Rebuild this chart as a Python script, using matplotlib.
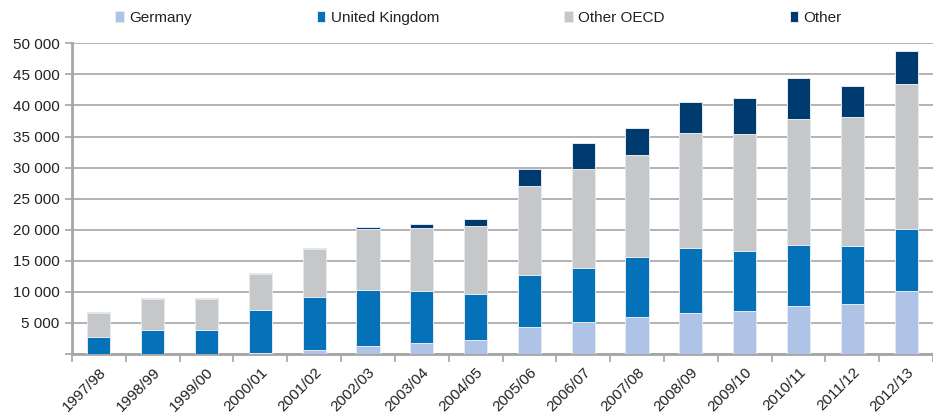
import numpy as np
import matplotlib
matplotlib.use("Agg")
import matplotlib.pyplot as plt
from matplotlib.ticker import FuncFormatter, FixedLocator

plt.rcParams['font.family'] = ['Liberation Sans', 'DejaVu Sans']

years = ["1997/98", "1998/99", "1999/00", "2000/01", "2001/02", "2002/03",
         "2003/04", "2004/05", "2005/06", "2006/07", "2007/08", "2008/09",
         "2009/10", "2010/11", "2011/12", "2012/13"]

germany = [50, 50, 50, 200, 650, 1300, 1800, 2200, 4350, 5200, 5900, 6600,
           6950, 7700, 8000, 10100]
uk = [2650, 3800, 3850, 6900, 8450, 9050, 8400, 7500, 8400, 8700, 9650,
      10400, 9650, 9850, 9400, 9950]
other_oecd = [3850, 5000, 4900, 5700, 7850, 9750, 10100, 10850, 14300,
              15900, 16500, 18500, 18750, 20300, 20700, 23350]
other = [200, 200, 200, 250, 100, 400, 650, 1200, 2650, 4100, 4350, 5000,
         5850, 6600, 5100, 5400]

series = [("Germany", germany, "#aec3e5"),
          ("United Kingdom", uk, "#0571b9"),
          ("Other OECD", other_oecd, "#c6c7c9"),
          ("Other", other, "#003b70")]

fig = plt.figure(figsize=(9.33, 4.18), dpi=100)
ax = fig.add_axes([72 / 933, 64 / 418, 861 / 933, (354 - 43.3) / 418])

x = np.arange(len(years))
bottom = np.zeros(len(years))
for name, vals, col in series:
    ax.bar(x, vals, 0.43, bottom=bottom, color=col, label=name,
           edgecolor="#e4eaf2", linewidth=0.7, zorder=3)
    bottom += np.array(vals)

grid_col = "#a6a6a6"
ax.set_ylim(0, 50000)
ax.set_xlim(-0.5, len(years) - 0.5)
ax.set_yticks(np.arange(0, 50001, 5000))
ax.yaxis.set_major_formatter(FuncFormatter(
    lambda v, p: "" if v == 0 else f"{int(v):,}".replace(",", " ")))
ax.grid(axis="y", color=grid_col, linewidth=1.2, zorder=0)
ax.tick_params(axis="y", length=5, width=1.2, color=grid_col,
               labelsize=11, labelcolor="#222222", pad=4)

ax.set_xticks(x)
ax.set_xticklabels(years, rotation=45, ha="right", rotation_mode="anchor",
                   fontsize=11, color="#222222")
ax.tick_params(axis="x", which="major", length=0, pad=8)
ax.xaxis.set_minor_locator(FixedLocator(np.arange(-0.5, len(years), 1.0)))
ax.tick_params(axis="x", which="minor", length=6, width=1.2, color=grid_col)

for side in ["top", "right"]:
    ax.spines[side].set_visible(False)
for side in ["left", "bottom"]:
    ax.spines[side].set_color(grid_col)
    ax.spines[side].set_linewidth(2)

fig.legend(loc="center", bbox_to_anchor=(0.513, 0.957), ncol=4,
           frameon=False, fontsize=11, handlelength=0.55, handleheight=0.7,
           handletextpad=0.35, columnspacing=8.2, labelcolor="#222222")

fig.savefig("out.png", dpi=100)
